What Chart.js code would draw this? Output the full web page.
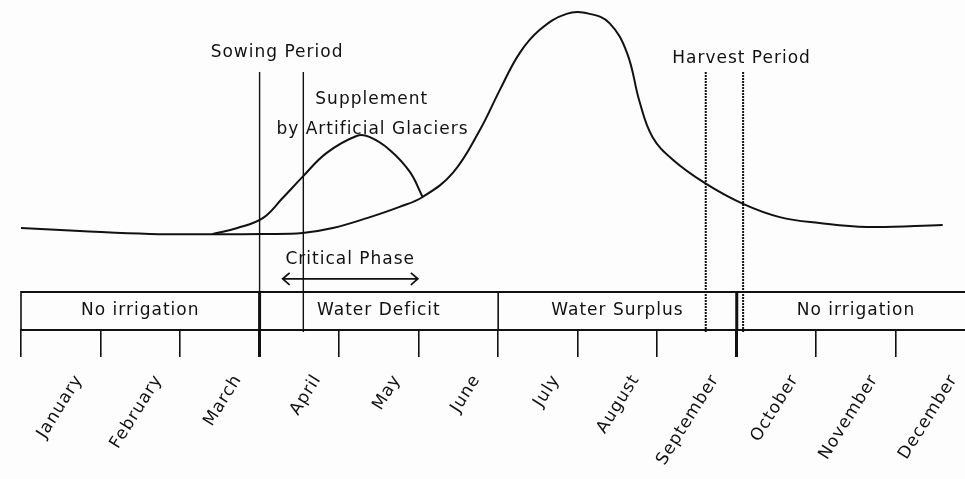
<!DOCTYPE html>
<html>
<head>
<meta charset="utf-8">
<script src="https://cdn.jsdelivr.net/npm/chart.js@4.4.1/dist/chart.umd.min.js"></script>
<style>
	html, body { margin: 0; padding: 0; background: #fdfdfd; }
	.wrapper { position: relative; width: 965px; height: 479px; }
</style>
</head>
<body>
<div class="wrapper"><canvas id="lc-water-calendar"></canvas></div>
<script>
const months = ["January", "February", "March", "April", "May", "June",
	"July", "August", "September", "October", "November", "December"];

// main stream curve: position in months (0 = 1 Jan) and relative water level
const flowMonth = [0, 0.74, 1.62, 2.5, 3.05, 3.54, 3.92, 4.35, 4.76, 5.05, 5.43, 5.77, 6.02, 6.27,
	6.52, 6.86, 7.15, 7.4, 7.62, 7.78, 7.94, 8.2, 8.6, 9.08, 9.54, 10.04, 10.64, 11.59];
const flowLevel = [30.9, 30.0, 29.1, 29.0, 29.1, 29.4, 30.9, 33.9, 37.3, 40.3, 47.6, 60.6, 72.7, 83.9,
	90.9, 95.8, 95.8, 93.0, 84.0, 69.0, 58.5, 51.5, 44.5, 38.2, 34.2, 32.4, 31.2, 31.8];

// extra water from artificial glaciers
const glacierMonth = [2.41, 2.72, 3.04, 3.29, 3.54, 3.84, 4.22, 4.38, 4.64, 4.89, 5.05];
const glacierLevel = [29.1, 30.9, 33.9, 40.0, 46.4, 53.6, 58.8, 58.5, 54.5, 47.9, 40.3];

const phaseNames = ["No irrigation", "Water Deficit", "Water Surplus", "No irrigation"];
const phaseStart = [0, 3, 6, 9];
const thickBounds = [3, 9];

const sowingPeriod = [3, 3.55];
const harvestPeriod = [8.61, 9.08];
const criticalPhase = [3.29, 4.99];

const INK = "#111";
const FONT = "'DejaVu Sans', sans-serif";
const BOX_TOP = 11.5;     // top edge of the phase strip (y units)
const MARK_TOP = 78.2;    // top of the period lines

const toPoints = (xs, ys) => xs.map((v, i) => ({ x: v, y: ys[i] }));

const vline = (ctx, px, y1, y2, width, dash) => {
	ctx.save();
	ctx.strokeStyle = INK;
	ctx.lineWidth = width;
	ctx.setLineDash(dash || []);
	ctx.beginPath();
	ctx.moveTo(px, y1);
	ctx.lineTo(px, y2);
	ctx.stroke();
	ctx.restore();
};

const label = (ctx, text, px, py, size) => {
	ctx.save();
	ctx.font = size + "px " + FONT;
	ctx.letterSpacing = "1px";
	ctx.fillStyle = INK;
	ctx.textAlign = "center";
	ctx.textBaseline = "middle";
	ctx.fillText(text, px, py);
	ctx.restore();
};

const diagramPlugin = {
	id: "diagram",
	beforeDraw(chart) {
		chart.ctx.letterSpacing = "1px";
	},
	afterDatasetsDraw(chart) {
		const { ctx, chartArea, scales: { x, y } } = chart;
		const boxTop = y.getPixelForValue(BOX_TOP);
		const bottom = chartArea.bottom;
		const markTop = y.getPixelForValue(MARK_TOP);

		// phase strip
		ctx.save();
		ctx.strokeStyle = INK;
		ctx.lineWidth = 2;
		ctx.beginPath();
		ctx.moveTo(x.getPixelForValue(0), boxTop);
		ctx.lineTo(chartArea.right, boxTop);
		ctx.stroke();
		ctx.restore();

		phaseStart.forEach((m) => {
			vline(ctx, x.getPixelForValue(m), boxTop - 1, bottom, thickBounds.includes(m) ? 3 : 1.6);
		});

		phaseNames.forEach((name, i) => {
			const end = i + 1 < phaseStart.length ? phaseStart[i + 1] : 12;
			label(ctx, name, x.getPixelForValue((phaseStart[i] + end) / 2), (boxTop + bottom) / 2, 17);
		});

		// sowing and harvest lines
		vline(ctx, x.getPixelForValue(sowingPeriod[0]), markTop, boxTop, 1.4);
		vline(ctx, x.getPixelForValue(sowingPeriod[1]), markTop, bottom + 2, 1.4);
		harvestPeriod.forEach((m) => {
			vline(ctx, x.getPixelForValue(m), markTop, bottom + 2, 2, [2, 1]);
		});

		label(ctx, "Sowing Period", x.getPixelForValue(3.22), y.getPixelForValue(84.2), 17);
		label(ctx, "Harvest Period", x.getPixelForValue(9.06), y.getPixelForValue(82.4), 17);
		label(ctx, "Supplement", x.getPixelForValue(4.41), y.getPixelForValue(69.7), 17);
		label(ctx, "by Artificial Glaciers", x.getPixelForValue(4.42), y.getPixelForValue(60.6), 17);

		// critical phase arrow
		const ax1 = x.getPixelForValue(criticalPhase[0]);
		const ax2 = x.getPixelForValue(criticalPhase[1]);
		const ay = y.getPixelForValue(15.5);
		label(ctx, "Critical Phase", (ax1 + ax2) / 2, y.getPixelForValue(21.2), 17);
		ctx.save();
		ctx.strokeStyle = INK;
		ctx.lineWidth = 1.8;
		ctx.beginPath();
		ctx.moveTo(ax1, ay);
		ctx.lineTo(ax2, ay);
		ctx.moveTo(ax1 + 7, ay - 6);
		ctx.lineTo(ax1, ay);
		ctx.lineTo(ax1 + 7, ay + 6);
		ctx.moveTo(ax2 - 7, ay - 6);
		ctx.lineTo(ax2, ay);
		ctx.lineTo(ax2 - 7, ay + 6);
		ctx.stroke();
		ctx.restore();
	},
};

const data = {
	datasets: [
		{
			label: "Stream flow",
			data: toPoints(flowMonth, flowLevel),
			borderColor: INK,
			borderWidth: 2,
			pointRadius: 0,
			fill: false,
			tension: 0.4,
		},
		{
			label: "Artificial glaciers",
			data: toPoints(glacierMonth, glacierLevel),
			borderColor: INK,
			borderWidth: 2,
			pointRadius: 0,
			fill: false,
			tension: 0.4,
		},
	],
};

const options = {
	responsive: true,
	maintainAspectRatio: false,
	animation: false,
	layout: { padding: { left: 21, right: 0, top: 0, bottom: 0 } },
	plugins: {
		legend: { display: false },
		tooltip: { enabled: false },
	},
	scales: {
		x: {
			type: "linear",
			min: 0,
			max: 11.87,
			afterBuildTicks: (scale) => {
				scale.ticks = months.map((m, i) => ({ value: i }));
			},
			afterFit: (scale) => {
				scale.height = 149;
				scale.paddingLeft = 0;
				scale.paddingRight = 0;
			},
			grid: {
				drawOnChartArea: false,
				tickLength: 27,
				color: INK,
				lineWidth: (c) => (c.tick && thickBounds.includes(c.tick.value) ? 3 : 1.6),
			},
			border: { display: true, color: INK, width: 2 },
			ticks: {
				autoSkip: false,
				minRotation: 58,
				maxRotation: 58,
				labelOffset: 58,
				padding: 14,
				color: INK,
				font: { family: FONT, size: 17 },
				callback: (v) => months[v],
			},
		},
		y: { display: false, min: 0, max: 100 },
	},
};

new Chart(document.getElementById("lc-water-calendar").getContext("2d"), {
	type: "line",
	data: data,
	options: options,
	plugins: [diagramPlugin],
});
</script>
</body>
</html>
